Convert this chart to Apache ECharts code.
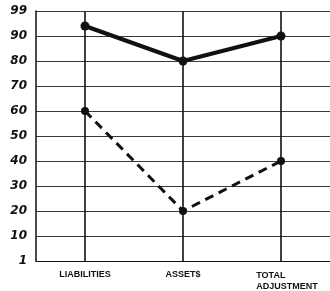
<!DOCTYPE html>
<html>
<head>
<meta charset="utf-8">
<script src="https://cdn.jsdelivr.net/npm/echarts@6/dist/echarts.min.js"></script>
<style>
  html, body { margin: 0; padding: 0; background: #fff; }
  #chart { width: 330px; height: 291px; }
</style>
</head>
<body>
<div id="chart"></div>
<script>
// data
const categories = ['LIABILITIES', 'ASSET$', 'TOTAL ADJUSTMENT']
const solidValues = [94, 80, 90]
const dashedValues = [60, 20, 40]
const yTickLabels = ['1', '10', '20', '30', '40', '50', '60', '70', '80', '90', '99']

const ink = '#111'
const chart = echarts.init(document.getElementById('chart'))

chart.setOption({
  animation: false,
  grid: { left: 36, top: 11, width: 303, height: 250, containLabel: false },
  xAxis: {
    type: 'category',
    data: categories,
    boundaryGap: true,
    axisLine: { show: true, lineStyle: { color: ink, width: 1 } },
    axisTick: {
      show: true, inside: true, alignWithLabel: true, length: 250,
      lineStyle: { color: ink, width: 1.6 }
    },
    splitLine: { show: false },
    axisLabel: {
      margin: 9,
      interval: 0,
      fontFamily: 'Liberation Sans',
      fontWeight: 'bold',
      fontSize: 9,
      color: ink,
      formatter(val) {
        if (val === 'TOTAL ADJUSTMENT') return '{l|TOTAL}\n{c|ADJUSTMENT}'
        return val
      },
      rich: {
        l: { align: 'left', padding: [0, 0, 0, 12], fontFamily: 'Liberation Sans', fontWeight: 'bold', fontSize: 9, color: ink, lineHeight: 11 },
        c: { align: 'center', padding: [0, 0, 0, 12], fontFamily: 'Liberation Sans', fontWeight: 'bold', fontSize: 9, color: ink, lineHeight: 11 }
      }
    }
  },
  yAxis: {
    type: 'value',
    min: 0,
    max: 100,
    interval: 10,
    axisLine: { show: true, lineStyle: { color: ink, width: 1.5 } },
    axisTick: { show: false },
    splitLine: { show: true, lineStyle: { color: '#3a3a3a', width: 1 } },
    axisLabel: {
      margin: 9,
      fontFamily: 'DejaVu Sans',
      fontWeight: 'bold',
      fontStyle: 'italic',
      fontSize: 12,
      color: ink,
      formatter(v) { return yTickLabels[Math.round(v / 10)] }
    }
  },
  series: [
    {
      type: 'line',
      data: solidValues,
      symbol: 'circle',
      symbolSize: 9,
      itemStyle: { color: ink },
      lineStyle: { color: ink, width: 4 }
    },
    {
      type: 'line',
      data: dashedValues,
      symbol: 'circle',
      symbolSize: 8,
      itemStyle: { color: ink },
      lineStyle: { color: ink, width: 3, type: [9, 6] }
    }
  ]
})
</script>
</body>
</html>
